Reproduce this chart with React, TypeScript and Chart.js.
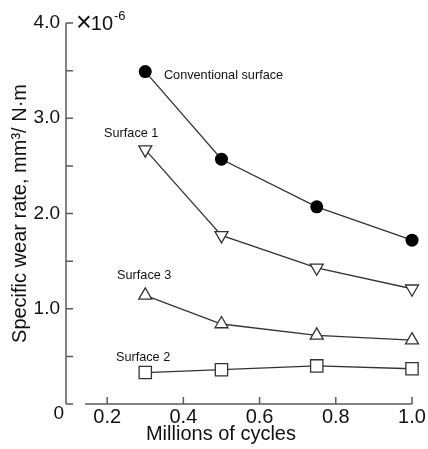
import React, { useEffect, useRef } from 'react';
import { Chart, registerables } from 'chart.js';

Chart.register(...registerables);

// ---- data ----
const cycles = [0.3, 0.5, 0.75, 1.0];
const conventional = [3.49, 2.57, 2.07, 1.72];
const surface1 = [2.67, 1.77, 1.43, 1.21];
const surface3 = [1.14, 0.84, 0.72, 0.67];
const surface2 = [0.33, 0.36, 0.4, 0.37];

const xTicks = [0.2, 0.4, 0.6, 0.8, 1.0];
const yTicks = [0, 0.5, 1.0, 1.5, 2.0, 2.5, 3.0, 3.5, 4.0];

const seriesNames = ['Conventional surface', 'Surface 1', 'Surface 3', 'Surface 2'];
const nameX = [0.349, 0.192, 0.226, 0.223];
const nameY = [3.454, 2.845, 1.344, 0.493];

const X_MIN = 0.092;
const X_MAX = 1.0;
const X_AXIS_START = 0.142;
const Y_MIN = 0;
const Y_MAX = 4.0;

const FONT = "'Liberation Sans', Arial, sans-serif";
const LINE = '#333';
const AXIS = '#5a5a5a';
const TEXT = '#111';

const decorPlugin = {
  id: 'decor',
  beforeDatasetsDraw(chart: any) {
    const { ctx } = chart;
    const xs = chart.scales.x;
    const ys = chart.scales.y;
    const x0 = xs.left;
    const yb = ys.getPixelForValue(Y_MIN);
    const yt = ys.getPixelForValue(Y_MAX);
    ctx.save();
    ctx.strokeStyle = AXIS;
    ctx.lineWidth = 1.5;
    ctx.beginPath();
    ctx.moveTo(x0, yt);
    ctx.lineTo(x0, yb);
    yTicks.forEach((v) => {
      const py = ys.getPixelForValue(v);
      ctx.moveTo(x0, py);
      ctx.lineTo(x0 + 7, py);
    });
    ctx.moveTo(xs.getPixelForValue(X_AXIS_START), yb);
    ctx.lineTo(xs.getPixelForValue(X_MAX), yb);
    xTicks.forEach((v) => {
      const px = xs.getPixelForValue(v);
      ctx.moveTo(px, yb);
      ctx.lineTo(px, yb - 7);
    });
    ctx.stroke();
    ctx.restore();
  },
  afterDraw(chart: any) {
    const { ctx } = chart;
    const xs = chart.scales.x;
    const ys = chart.scales.y;
    const yb = ys.getPixelForValue(Y_MIN);
    const yt = ys.getPixelForValue(Y_MAX);
    ctx.save();
    ctx.fillStyle = TEXT;
    // series names
    ctx.font = `12.7px ${FONT}`;
    ctx.textAlign = 'left';
    ctx.textBaseline = 'middle';
    seriesNames.forEach((n, i) => {
      ctx.fillText(n, xs.getPixelForValue(nameX[i]), ys.getPixelForValue(nameY[i]));
    });
    // origin label
    ctx.font = `19px ${FONT}`;
    ctx.textAlign = 'right';
    ctx.fillText('0', xs.left - 2, yb + 10);
    // exponent
    ctx.textAlign = 'left';
    ctx.font = `27px ${FONT}`;
    const xStart = xs.left + 10;
    ctx.fillText('\u00d7', xStart, yt + 1);
    const wx = ctx.measureText('\u00d7').width;
    ctx.font = `20px ${FONT}`;
    ctx.fillText('10', xStart + wx - 1, yt + 1);
    const w10 = ctx.measureText('10').width;
    ctx.font = `13px ${FONT}`;
    ctx.fillText('-6', xStart + wx - 1 + w10 + 1, yt - 7);
    // x title
    ctx.font = `20px ${FONT}`;
    ctx.textAlign = 'center';
    ctx.fillText('Millions of cycles', xs.getPixelForValue(0.5) - 0.5, yb + 30);
    ctx.restore();
  },
};

export default function App() {
  const ref = useRef<HTMLCanvasElement | null>(null);

  useEffect(() => {
    if (!ref.current) return;
    const mk = (d: number[]) => cycles.map((x, i) => ({ x, y: d[i] }));
    const chart = new Chart(ref.current, {
      type: 'line',
      data: {
        datasets: [
          {
            label: seriesNames[0],
            data: mk(conventional),
            borderColor: LINE,
            borderWidth: 1.3,
            pointStyle: 'circle',
            pointRadius: 6.5,
            pointBackgroundColor: '#000',
            pointBorderColor: '#000',
            pointBorderWidth: 0,
            clip: false,
          },
          {
            label: seriesNames[1],
            data: mk(surface1),
            borderColor: LINE,
            borderWidth: 1.3,
            pointStyle: 'triangle',
            pointRotation: 180,
            pointRadius: 7.5,
            pointBackgroundColor: '#fff',
            pointBorderColor: LINE,
            pointBorderWidth: 1.3,
            clip: false,
          },
          {
            label: seriesNames[2],
            data: mk(surface3),
            borderColor: LINE,
            borderWidth: 1.3,
            pointStyle: 'triangle',
            pointRadius: 7.5,
            pointBackgroundColor: '#fff',
            pointBorderColor: LINE,
            pointBorderWidth: 1.3,
            clip: false,
          },
          {
            label: seriesNames[3],
            data: mk(surface2),
            borderColor: LINE,
            borderWidth: 1.3,
            pointStyle: 'rect',
            pointRadius: 8.7,
            pointBackgroundColor: '#fff',
            pointBorderColor: LINE,
            pointBorderWidth: 1.3,
            clip: false,
          },
        ],
      },
      options: {
        responsive: false,
        animation: false,
        layout: { padding: { top: 23, right: 16, left: 0, bottom: 0 } },
        plugins: { legend: { display: false }, tooltip: { enabled: false } },
        scales: {
          x: {
            type: 'linear',
            min: X_MIN,
            max: X_MAX,
            grid: { display: false, drawTicks: false },
            border: { display: false },
            afterBuildTicks: (s: any) => {
              s.ticks = xTicks.map((value) => ({ value }));
            },
            afterFit: (s: any) => {
              s.height = 45;
            },
            ticks: {
              padding: 1,
              color: TEXT,
              font: { family: FONT, size: 20 },
              maxRotation: 0,
              callback: (v: any) => Number(v).toFixed(1),
            },
          },
          y: {
            type: 'linear',
            min: Y_MIN,
            max: Y_MAX,
            grid: { display: false, drawTicks: false },
            border: { display: false },
            afterBuildTicks: (s: any) => {
              s.ticks = yTicks.map((value) => ({ value }));
            },
            afterFit: (s: any) => {
              s.width = 66;
            },
            ticks: {
              padding: 6,
              color: TEXT,
              font: { family: FONT, size: 19 },
              callback: (v: any) => {
                const n = Number(v);
                if (n === 0) return '';
                return Math.abs(n - Math.round(n)) < 1e-9 ? n.toFixed(1) : '';
              },
            },
            title: {
              display: true,
              text: 'Specific wear rate, mm\u00b3/ N\u00b7m',
              color: TEXT,
              font: { family: FONT, size: 20 },
              padding: { top: 8, bottom: 0 },
            },
          },
        },
      },
      plugins: [decorPlugin],
    } as any);
    return () => chart.destroy();
  }, []);

  return (
    <div style={{ position: 'fixed', left: 0, top: 0, width: 428, height: 449, background: '#fff' }}>
      <canvas ref={ref} width={428} height={449} style={{ display: 'block' }} />
    </div>
  );
}
